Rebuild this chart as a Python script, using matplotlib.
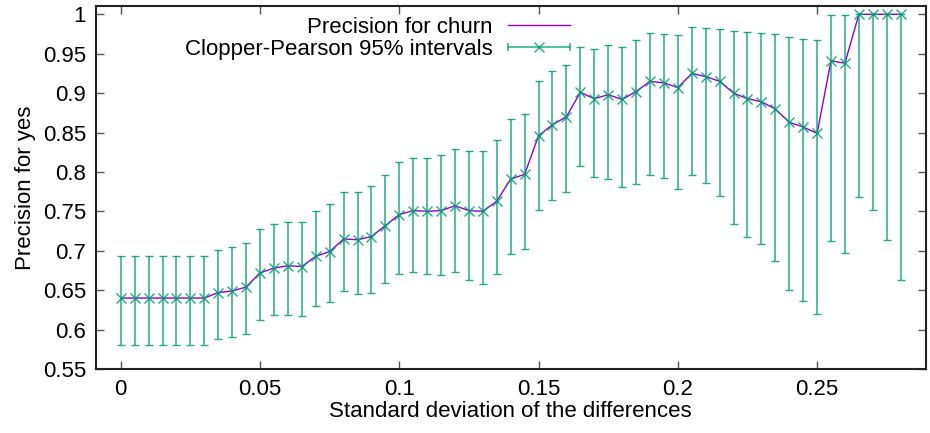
import matplotlib
matplotlib.use('Agg')
import matplotlib.pyplot as plt
from matplotlib.lines import Line2D
from matplotlib.legend_handler import HandlerLine2D, HandlerTuple
from matplotlib.ticker import FuncFormatter, MultipleLocator

plt.rcParams['font.family'] = ['Liberation Sans', 'DejaVu Sans']

# standard deviation of the differences
std_dev = [0.0, 0.005, 0.01, 0.015, 0.02, 0.025, 0.03, 0.035, 0.04, 0.045,
           0.05, 0.055, 0.06, 0.065, 0.07, 0.075, 0.08, 0.085, 0.09, 0.095,
           0.1, 0.105, 0.11, 0.115, 0.12, 0.125, 0.13, 0.135, 0.14, 0.145,
           0.15, 0.155, 0.16, 0.165, 0.17, 0.175, 0.18, 0.185, 0.19, 0.195,
           0.2, 0.205, 0.21, 0.215, 0.22, 0.225, 0.23, 0.235, 0.24, 0.245,
           0.25, 0.255, 0.26, 0.265, 0.27, 0.275, 0.28]

precision = [0.64, 0.64, 0.64, 0.64, 0.64, 0.64, 0.64, 0.647, 0.649, 0.654,
             0.672, 0.678, 0.681, 0.680, 0.693, 0.699, 0.715, 0.714, 0.718, 0.732,
             0.746, 0.751, 0.750, 0.751, 0.757, 0.751, 0.750, 0.763, 0.791, 0.797,
             0.846, 0.860, 0.870, 0.901, 0.893, 0.898, 0.892, 0.902, 0.915, 0.913,
             0.907, 0.925, 0.921, 0.915, 0.900, 0.893, 0.889, 0.880, 0.863, 0.857,
             0.849, 0.941, 0.938, 1.0, 1.0, 1.0, 1.0]

ci_low = [0.581, 0.581, 0.581, 0.581, 0.581, 0.581, 0.581, 0.588, 0.591, 0.595,
          0.612, 0.618, 0.619, 0.617, 0.630, 0.635, 0.649, 0.645, 0.647, 0.659,
          0.671, 0.673, 0.670, 0.669, 0.673, 0.663, 0.658, 0.671, 0.696, 0.702,
          0.752, 0.764, 0.774, 0.807, 0.793, 0.791, 0.781, 0.785, 0.796, 0.792,
          0.778, 0.796, 0.786, 0.769, 0.734, 0.717, 0.708, 0.687, 0.650, 0.636,
          0.620, 0.713, 0.697, 0.768, 0.752, 0.714, 0.663]

ci_high = [0.694, 0.694, 0.694, 0.694, 0.694, 0.694, 0.694, 0.701, 0.705, 0.710,
           0.727, 0.734, 0.737, 0.737, 0.750, 0.759, 0.775, 0.775, 0.782, 0.796,
           0.812, 0.818, 0.818, 0.822, 0.829, 0.827, 0.827, 0.841, 0.867, 0.873,
           0.916, 0.928, 0.936, 0.959, 0.956, 0.961, 0.959, 0.967, 0.976, 0.975,
           0.974, 0.984, 0.983, 0.982, 0.979, 0.977, 0.976, 0.975, 0.971, 0.969,
           0.968, 0.999, 0.999, 1.0, 1.0, 1.0, 1.0]

purple = '#9400d3'
green = '#009e73'
fs = 16

fig = plt.figure(figsize=(9.3, 4.33), dpi=100)
ax = fig.add_axes([0.1029, 0.1478, 0.8925, 0.8377])

ax.plot(std_dev, precision, color=purple, lw=1.0, zorder=2)

err_low = [p - lo for p, lo in zip(precision, ci_low)]
err_high = [hi - p for p, hi in zip(precision, ci_high)]
ax.errorbar(std_dev, precision, yerr=[err_low, err_high], fmt='x',
            color=green, ecolor=green, elinewidth=1.1, capsize=2.9,
            capthick=1.1, markersize=6.5, markeredgewidth=1.0, alpha=0.85,
            zorder=3)

ax.set_xlim(-0.009, 0.289)
ax.set_ylim(0.55, 1.0102)
ax.xaxis.set_major_locator(MultipleLocator(0.05))
ax.yaxis.set_major_locator(MultipleLocator(0.05))
fmt = FuncFormatter(lambda v, pos: '%g' % round(v, 3))
ax.xaxis.set_major_formatter(fmt)
ax.yaxis.set_major_formatter(fmt)
ax.tick_params(direction='in', top=True, right=True, length=5.8,
               width=1.0, color='#555555', labelsize=fs, pad=7)
for s in ax.spines.values():
    s.set_linewidth(1.5)
    s.set_color('#222222')

ax.set_xlabel('Standard deviation of the differences', fontsize=fs, labelpad=1)
ax.set_ylabel('Precision for yes', fontsize=fs, labelpad=5)

# legend handles in gnuplot style
h_line = Line2D([], [], color=purple, lw=1.0)
h_bar = Line2D([], [], color=green, lw=1.1, marker='x', markersize=6.5,
               markeredgewidth=1.0, alpha=0.85)
h_caps = Line2D([], [], color=green, ls='none', marker='|', markersize=5.8,
                markeredgewidth=1.1, alpha=0.85)
ax.legend([h_line, (h_bar, h_caps)],
          ['Precision for churn', 'Clopper-Pearson 95% intervals'],
          handler_map={h_caps: HandlerLine2D(numpoints=2, marker_pad=0),
                       tuple: HandlerTuple(ndivide=1)},
          loc='upper right', bbox_to_anchor=(0.588, 1.007), frameon=False,
          markerfirst=False, fontsize=fs, handlelength=2.8,
          labelspacing=0.05, handletextpad=0.7, borderaxespad=0.2)

fig.savefig('out.png', dpi=100)
